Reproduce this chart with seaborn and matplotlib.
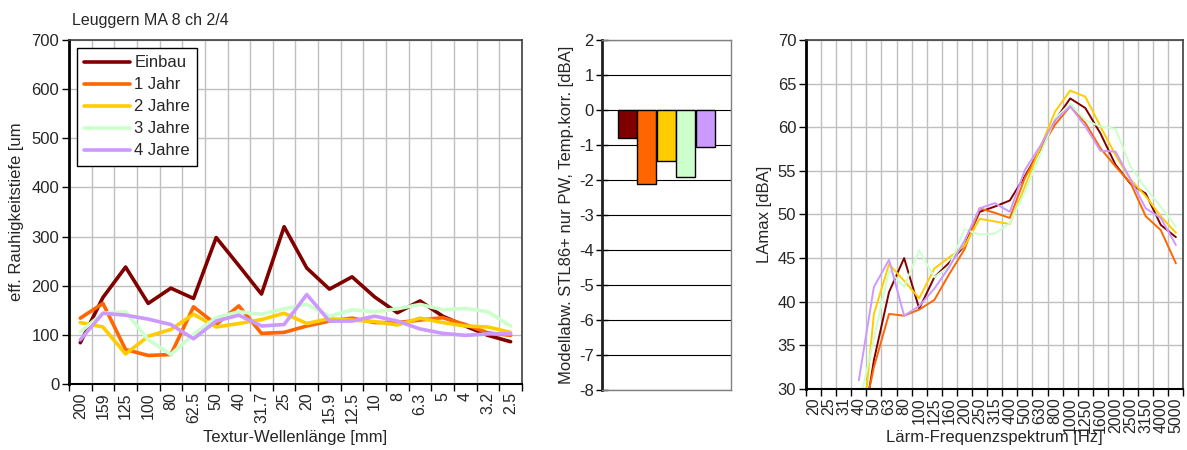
import matplotlib
matplotlib.use("Agg")
import matplotlib.pyplot as plt
import seaborn as sns
import pandas as pd
import numpy as np

# series and colours (same for all three panels)
series = ['Einbau', '1 Jahr', '2 Jahre', '3 Jahre', '4 Jahre']
colors = ['#800000', '#FF6600', '#FFCC00', '#CCFFCC', '#CC99FF']

# left panel: texture wavelength vs. roughness depth
wavelengths = ['200', '159', '125', '100', '80', '62.5', '50', '40', '31.7', '25',
               '20', '15.9', '12.5', '10', '8', '6.3', '5', '4', '3.2', '2.5']
rough_einbau = [84, 176, 238, 164, 195, 174, 298, 241, 183, 320,
                236, 193, 218, 177, 145, 169, 138, 118, 99, 86]
rough_1jahr = [134, 164, 70, 58, 60, 157, 121, 159, 103, 105,
               118, 128, 134, 125, 125, 130, 135, 121, 104, 99]
rough_2jahre = [125, 116, 61, 97, 111, 142, 116, 123, 131, 144,
                123, 133, 130, 127, 120, 134, 125, 118, 116, 105]
rough_3jahre = [106, 144, 147, 90, 60, 101, 135, 147, 142, 153,
                162, 138, 151, 147, 153, 162, 151, 154, 147, 118]
rough_4jahre = [90, 144, 140, 132, 121, 92, 128, 140, 118, 121,
                182, 128, 128, 138, 128, 112, 103, 99, 102, 102]

# middle panel: model deviation
deviation = [-0.8, -2.1, -1.47, -1.92, -1.05]

# right panel: noise spectrum
freqs = ['20', '25', '31', '40', '50', '63', '80', '100', '125', '160', '200', '250',
         '315', '400', '500', '630', '800', '1000', '1250', '1600', '2000', '2500',
         '3150', '4000', '5000']
nan = np.nan
lamax_einbau = [nan, nan, nan, 22.5, 33.3, 41.1, 45.0, 39.2, 42.8, 44.5, 46.4, 50.3,
                50.9, 51.6, 54.4, 57.4, 60.8, 63.3, 62.2, 59.3, 55.7, 53.5, 52.4, 48.8, 47.4]
lamax_1jahr = [nan, nan, nan, 24.3, 32.5, 38.6, 38.4, 39.1, 40.2, 43.2, 46.0, 50.7,
               50.2, 49.6, 54.2, 57.4, 60.3, 62.4, 60.5, 57.6, 55.5, 53.6, 49.8, 48.2, 44.4]
lamax_2jahre = [nan, nan, nan, 21.0, 38.6, 44.3, 42.4, 40.4, 43.8, 45.1, 46.4, 49.5,
                49.2, 48.9, 53.2, 57.6, 61.8, 64.2, 63.5, 60.1, 56.8, 54.0, 52.1, 49.8, 47.9]
lamax_3jahre = [nan, nan, nan, 28.0, 35.8, 43.6, 41.7, 45.9, 42.8, 44.1, 48.3, 47.7,
                47.8, 49.0, 52.6, 56.8, 61.0, 62.7, 60.8, 60.1, 59.8, 55.5, 53.0, 50.9, 48.6]
lamax_4jahre = [nan, nan, nan, 31.0, 41.7, 44.8, 38.4, 39.5, 41.5, 44.0, 47.0, 50.7,
                51.3, 50.3, 55.1, 57.8, 60.8, 62.4, 60.1, 57.3, 57.2, 54.0, 50.7, 49.6, 46.5]


def long_frame(labels, rows):
    parts = []
    for name, vals in zip(series, rows):
        parts.append(pd.DataFrame({'pos': range(len(labels)), 'value': vals, 'series': name}))
    return pd.concat(parts, ignore_index=True)


df_rough = long_frame(wavelengths, [rough_einbau, rough_1jahr, rough_2jahre, rough_3jahre, rough_4jahre])
df_lamax = long_frame(freqs, [lamax_einbau, lamax_1jahr, lamax_2jahre, lamax_3jahre, lamax_4jahre])
df_dev = pd.DataFrame({'series': series, 'dev': deviation})

sns.set_theme(style='white')
plt.rcParams['font.family'] = ['Liberation Sans', 'DejaVu Sans']
plt.rcParams['axes.unicode_minus'] = False

fig = plt.figure(figsize=(11.87, 4.5), dpi=100)
ax1 = fig.add_axes([0.0581, 0.1467, 0.3816, 0.7644])
ax2 = fig.add_axes([0.5074, 0.1333, 0.1084, 0.7778])
ax3 = fig.add_axes([0.679, 0.1356, 0.318, 0.7756])

grid_c = '#c0c0c0'


def style_category_axes(ax, labels, ymin, ymax, ystep):
    n = len(labels)
    ax.set_xlim(-0.5, n - 0.5)
    ax.set_ylim(ymin, ymax)
    ax.set_yticks(np.arange(ymin, ymax + ystep / 2, ystep))
    ax.set_xticks(range(n))
    ax.set_xticklabels(labels, rotation=90, fontsize=11.5)
    ax.set_xticks(np.arange(-0.5, n, 1), minor=True)
    ax.tick_params(axis='x', which='major', length=0, pad=6)
    ax.tick_params(axis='x', which='minor', length=5, width=1, color='black', direction='out', bottom=True)
    ax.tick_params(axis='y', length=5, width=1, color='black', direction='out', left=True, labelsize=12, pad=2)
    ax.grid(False)
    ax.xaxis.grid(True, which='minor', color=grid_c, linewidth=1)
    ax.yaxis.grid(True, which='major', color=grid_c, linewidth=1)
    ax.set_axisbelow(True)
    for side in ['top', 'right']:
        ax.spines[side].set_color('#404040')
        ax.spines[side].set_linewidth(1.2)
    ax.spines['left'].set_color('black')
    ax.spines['left'].set_linewidth(2)
    ax.spines['bottom'].set_color('black')
    ax.spines['bottom'].set_linewidth(1.5)


# left panel
sns.lineplot(data=df_rough, x='pos', y='value', hue='series', hue_order=series,
             palette=colors, linewidth=2.6, sort=False, ax=ax1)
style_category_axes(ax1, wavelengths, 0, 700, 100)
ax1.set_ylabel('eff. Rauhigkeitstiefe [um', fontsize=12, labelpad=5)
ax1.set_xlabel('Textur-Wellenlänge [mm]', fontsize=12)
ax1.xaxis.set_label_coords(0.5, -0.134)
ax1.legend(loc='upper left', bbox_to_anchor=(0.017, 0.977), borderaxespad=0,
           frameon=True, fancybox=False, edgecolor='black', framealpha=1,
           fontsize=12, handlelength=2.75, handletextpad=0.25, labelspacing=0.42,
           borderpad=0.45)
ax1.get_legend().get_frame().set_linewidth(1)
fig.text(72 / 1187, 1 - 20 / 450, 'Leuggern MA 8 ch 2/4', fontsize=11.5, va='center', ha='left')

# middle panel
sns.barplot(data=df_dev, x='series', y='dev', hue='series', hue_order=series,
            palette=colors, legend=False, width=0.97, edgecolor='black', linewidth=1,
            saturation=1, ax=ax2)
ax2.set_xlim(-1.27, 5.32)
ax2.set_ylim(-8, 2)
ax2.set_yticks(range(-8, 3))
ax2.set_xticks([])
ax2.set_xlabel('')
ax2.grid(False)
ax2.yaxis.grid(True, color='black', linewidth=0.8)
ax2.set_axisbelow(True)
ax2.tick_params(axis='y', length=8, width=1, color='black', direction='inout', left=True, labelsize=12, pad=2)
for side in ['top', 'right', 'bottom']:
    ax2.spines[side].set_color('#808080')
    ax2.spines[side].set_linewidth(1)
ax2.spines['left'].set_color('#202020')
ax2.spines['left'].set_linewidth(2)
ax2.set_ylabel('Modellabw. STL86+ nur PW, Temp.korr. [dBA]', fontsize=12, labelpad=4)

# right panel
sns.lineplot(data=df_lamax, x='pos', y='value', hue='series', hue_order=series,
             palette=colors, linewidth=1.4, sort=False, legend=False, ax=ax3)
style_category_axes(ax3, freqs, 30, 70, 5)
ax3.set_ylabel('LAmax [dBA]', fontsize=12, labelpad=4)
ax3.set_xlabel('Lärm-Frequenzspektrum [Hz]', fontsize=12)
ax3.xaxis.set_label_coords(0.5, -0.117)

fig.savefig('out.png', dpi=100)
